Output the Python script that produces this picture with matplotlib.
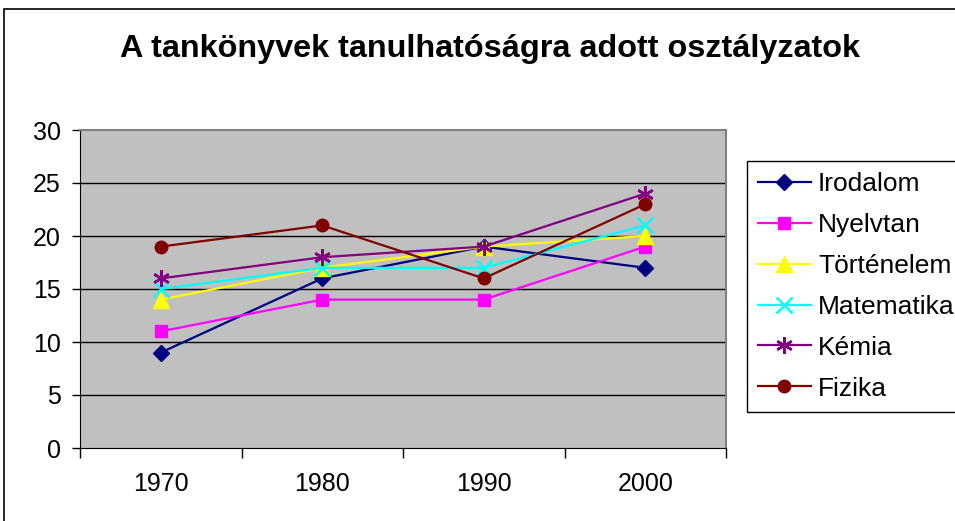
import matplotlib.pyplot as plt
from matplotlib.patches import Rectangle
import numpy as np

plt.rcParams['font.family'] = ['Liberation Sans', 'DejaVu Sans']

years = ['1970', '1980', '1990', '2000']
series_names = ['Irodalom', 'Nyelvtan', 'Történelem', 'Matematika', 'Kémia', 'Fizika']
irodalom = [9, 16, 19, 17]
nyelvtan = [11, 14, 14, 19]
tortenelem = [14, 17, 19, 20]
matematika = [15, 17, 17, 21]
kemia = [16, 18, 19, 24]
fizika = [19, 21, 16, 23]
values = [irodalom, nyelvtan, tortenelem, matematika, kemia, fizika]

colors = ['#000080', '#FF00FF', '#FFFF00', '#00FFFF', '#800080', '#800000']
markers = ['D', 's', '^', 'x', (6, 2, 0), 'o']
msizes = [8, 9, 11, 11, 12, 9]

fig = plt.figure(figsize=(9.55, 5.21), dpi=100)
ax = fig.add_axes([80 / 955, 1 - 448 / 521, (726 - 80) / 955, (448 - 130) / 521])
ax.set_facecolor('#C0C0C0')

# outer chart border (left and top edges visible)
fig.patches.append(Rectangle((4 / 955, -0.1), 1.2, 1 - 9 / 521 + 0.1,
                             transform=fig.transFigure, fill=False,
                             edgecolor='black', linewidth=1.2))

x = np.arange(len(years))
for name, vals, c, m, ms in zip(series_names, values, colors, markers, msizes):
    ax.plot(x, vals, color=c, marker=m, markersize=ms, linewidth=1.6,
            markeredgewidth=1.8 if m in ('x', (6, 2, 0)) else 1,
            markerfacecolor=c, markeredgecolor=c, label=name, zorder=3)

ax.set_xlim(-0.5, 3.5)
ax.set_ylim(0, 30)
ax.set_yticks(range(0, 31, 5))
for y in range(5, 30, 5):
    ax.axhline(y, color='black', linewidth=1, zorder=1)

ax.set_xticks(np.arange(-0.5, 4, 1))
ax.set_xticklabels([])
ax.set_xticks(x, minor=True)
ax.set_xticklabels(years, minor=True, fontsize=18)
ax.tick_params(axis='x', which='minor', length=0, pad=17)
ax.tick_params(axis='x', which='major', length=7, width=1, direction='out')
ax.tick_params(axis='y', length=6, width=1, direction='out', labelsize=18, pad=8)

ax.spines['top'].set_color('#808080')
ax.spines['right'].set_color('#808080')
ax.spines['top'].set_linewidth(1.5)
ax.spines['right'].set_linewidth(1.5)
ax.spines['left'].set_color('black')
ax.spines['bottom'].set_color('black')

fig.text(490 / 955, 1 - 49 / 521, 'A tankönyvek tanulhatóságra adott osztályzatok',
         ha='center', va='center', fontsize=23.3, fontweight='bold')

leg = ax.legend(loc='upper left', bbox_to_anchor=(747 / 955, 1 - 161 / 521),
                bbox_transform=fig.transFigure, fontsize=19, frameon=True,
                fancybox=False, edgecolor='black', framealpha=1,
                handlelength=2.0, handletextpad=0.27, labelspacing=0.64,
                borderpad=0.42, borderaxespad=0)
leg.get_frame().set_linewidth(1)

fig.savefig('out.png', dpi=100)
